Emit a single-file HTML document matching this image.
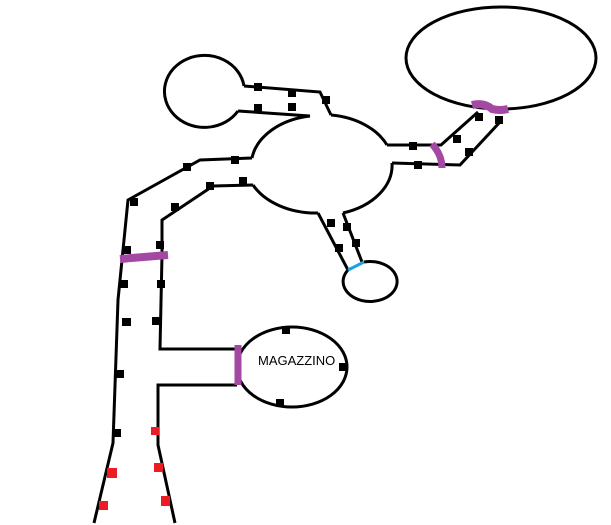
<!DOCTYPE html>
<html><head><style>html,body{margin:0;padding:0;background:#fff}svg{display:block}</style></head>
<body>
<svg width="611" height="525" viewBox="0 0 611 525" xmlns="http://www.w3.org/2000/svg">
<g fill="none" stroke="#000" stroke-width="3">
<path d="M244,86 A40,36 0 1 0 238,111"/>
<path d="M244,86 L320,92 L331,115"/>
<path d="M238,111 L310,116"/>
<path d="M331,115 A70,50 0 0 1 387,145"/>
<path d="M392,163 A70,50 0 0 1 343,213"/>
<path d="M318,213 A70,50 0 0 1 253,185"/>
<path d="M252,158 A70,50 0 0 1 310,116"/>
<path d="M252,158 L200,160 L128,200 L118,300 L113,443 L94,523"/>
<path d="M253,185 L213,186 L162,220 L162,255 L160,349 L237,349"/>
<path d="M237,385 L158,385 L158,445 L175,523"/>
<ellipse cx="292" cy="367" rx="55" ry="40"/>
<path d="M318,213 L348,270"/>
<path d="M343,213 L362,262"/>
<path d="M348,270 A27,20 0 1 0 364,262"/>
<path d="M387,145 L441,145 L478,112"/>
<path d="M392,163 L460,165 L500,122"/>
<ellipse cx="501" cy="58" rx="95" ry="51"/>
</g>
<line x1="348" y1="270" x2="364" y2="262" stroke="#1ba1e2" stroke-width="3"/>
<g stroke="#a349a4" stroke-linecap="butt" fill="none">
<path d="M120,259 L168,255" stroke-width="8"/>
<line x1="238" y1="345" x2="238" y2="385" stroke-width="7"/>
<path d="M432,144 Q442,155 442,168" stroke-width="7"/>
<path d="M472,105 Q484,102 492,109 Q500,111 508,109" stroke-width="8"/>
</g>
<g fill="#000">
<rect x="254" y="83" width="8" height="8"/><rect x="288" y="89" width="8" height="8"/>
<rect x="288" y="103" width="8" height="8"/><rect x="322" y="96" width="8" height="8"/>
<rect x="254" y="104" width="8" height="8"/><rect x="231" y="156" width="8" height="8"/>
<rect x="183" y="163" width="8" height="8"/><rect x="130" y="198" width="8" height="8"/>
<rect x="206" y="182" width="8" height="8"/><rect x="239" y="177" width="8" height="8"/>
<rect x="171" y="203" width="8" height="8"/><rect x="123" y="246" width="8" height="8"/>
<rect x="156" y="241" width="8" height="8"/><rect x="120" y="280" width="8" height="8"/>
<rect x="157" y="280" width="8" height="8"/><rect x="122" y="318" width="9" height="8"/>
<rect x="152" y="317" width="8" height="8"/><rect x="116" y="370" width="8" height="8"/>
<rect x="113" y="429" width="8" height="8"/>
<rect x="282" y="326" width="8" height="8"/><rect x="339" y="363" width="8" height="8"/>
<rect x="276" y="399" width="8" height="8"/>
<rect x="409" y="142" width="8" height="8"/><rect x="414" y="161" width="8" height="8"/>
<rect x="453" y="135" width="8" height="8"/><rect x="465" y="148" width="8" height="8"/>
<rect x="475" y="113" width="8" height="8"/><rect x="495" y="116" width="8" height="8"/>
<rect x="327" y="219" width="8" height="8"/><rect x="343" y="223" width="8" height="8"/>
<rect x="335" y="244" width="8" height="8"/><rect x="352" y="239" width="8" height="8"/>
</g>
<g fill="#ed1c24">
<rect x="151" y="427" width="8" height="8"/><rect x="107" y="468" width="10" height="10"/>
<rect x="154" y="463" width="9" height="9"/><rect x="99" y="501" width="9" height="9"/>
<rect x="161" y="496" width="9" height="10"/>
</g>
<text x="258" y="365" font-family="Liberation Sans, sans-serif" font-size="13" fill="#000">MAGAZZINO</text>
</svg>
</body></html>
